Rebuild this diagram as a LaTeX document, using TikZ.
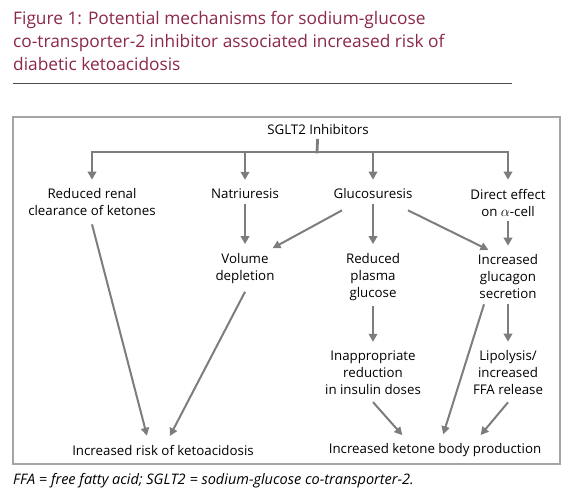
\documentclass[tikz,border=0pt]{standalone}
\usepackage{fontspec}
\setmainfont{Open Sans}
\usetikzlibrary{arrows.meta}

\definecolor{titlered}{RGB}{140,40,72}
\definecolor{arrowgray}{RGB}{125,125,125}
\definecolor{framegray}{RGB}{165,165,165}

\begin{document}
\begin{tikzpicture}[x=1pt, y=-1pt,
    box/.style={inner sep=5pt, align=center, font=\fontsize{13.3}{17}\selectfont},
    bar/.style={line width=2.8pt, draw=arrowgray, line cap=rect},
    arr/.style={-{Triangle[length=8pt,width=8.5pt]}, line width=2.8pt, draw=arrowgray, shorten >=4pt},
    slant/.style={-{Triangle[length=8pt,width=8pt]}, line width=2pt, draw=arrowgray, shorten >=4pt}]
    \useasboundingbox (0,0) rectangle (572,494);

    % heading
    \node[anchor=north west, align=left, inner sep=0pt, text=titlered,
          font=\fontsize{17.3}{23}\selectfont] (title) at (13,11)
        {Figure 1: Potential mechanisms for sodium-glucose\\
         co-transporter-2 inhibitor associated increased risk of\\
         diabetic ketoacidosis};
    \draw[line width=1pt, draw=black!70] (13,84) -- (512,84);
    \draw[line width=1.2pt, draw=framegray] (13,117) rectangle (560,464);

    % nodes
    \node[box] (top) at (318,130) {SGLT2 Inhibitors};
    \node[box] (renal) at (92,202.5) {Reduced renal\\clearance of ketones};
    \node[box] (natri) at (245,194) {Natriuresis};
    \node[box] (gluco) at (373,194) {Glucosuresis};
    \node[box] (direct) at (508,202.5) {Direct effect\\on $\alpha$-cell};
    \node[box] (volume) at (245,268.5) {Volume\\depletion};
    \node[box] (plasma) at (373,277) {Reduced\\plasma\\glucose};
    \node[box] (glucagon) at (508,277) {Increased\\glucagon\\secretion};
    \node[box] (insulin) at (373,373) {Inappropriate\\reduction\\in insulin doses};
    \node[box] (lipo) at (508,373) {Lipolysis/\\increased\\FFA release};
    \node[box] (risk) at (163,450) {Increased risk of ketoacidosis};
    \node[box] (ketone) at (435,450) {Increased ketone body production};

    % connectors
    \coordinate (split) at (317,152);
    \draw[bar] (top) -- (split);
    \draw[bar] (renal |- split) -- (direct |- split);
    \foreach \n in {renal,natri,gluco,direct}
        \draw[arr] (\n |- split) -- (\n.north);
    \draw[arr] (natri.south) -- (volume.north);
    \draw[arr] (gluco.south) -- (plasma.north);
    \draw[arr] (direct.south) -- (glucagon.north);
    \draw[arr] (plasma.south) -- (insulin.north);
    \draw[arr] (glucagon.south) -- (lipo.north);
    \draw[slant] ([xshift=-31pt,yshift=-6pt]gluco.south) -- ([xshift=24pt,yshift=-2pt]volume.north);
    \draw[slant] ([xshift=35pt,yshift=-6pt]gluco.south) -- ([xshift=-16pt,yshift=-2pt]glucagon.north);
    \draw[slant] ([yshift=-3pt]renal.south) -- ([xshift=-15pt]risk.north);
    \draw[slant] ([yshift=-3pt]volume.south) -- ([xshift=5pt]risk.north);
    \draw[slant] ([xshift=-24pt]glucagon.south) -- ([xshift=7pt]ketone.north);
    \draw[slant] ([yshift=-2pt]insulin.south) -- ([xshift=-30pt]ketone.north);
    \draw[slant] ([yshift=-2pt]lipo.south) -- ([xshift=43pt]ketone.north);

    % footnote
    \node[anchor=base west, inner sep=0pt, font=\fontsize{14.5}{16}\selectfont\itshape] (note) at (13,484)
        {FFA = free fatty acid; SGLT2 = sodium-glucose co-transporter-2.};
\end{tikzpicture}
\end{document}
